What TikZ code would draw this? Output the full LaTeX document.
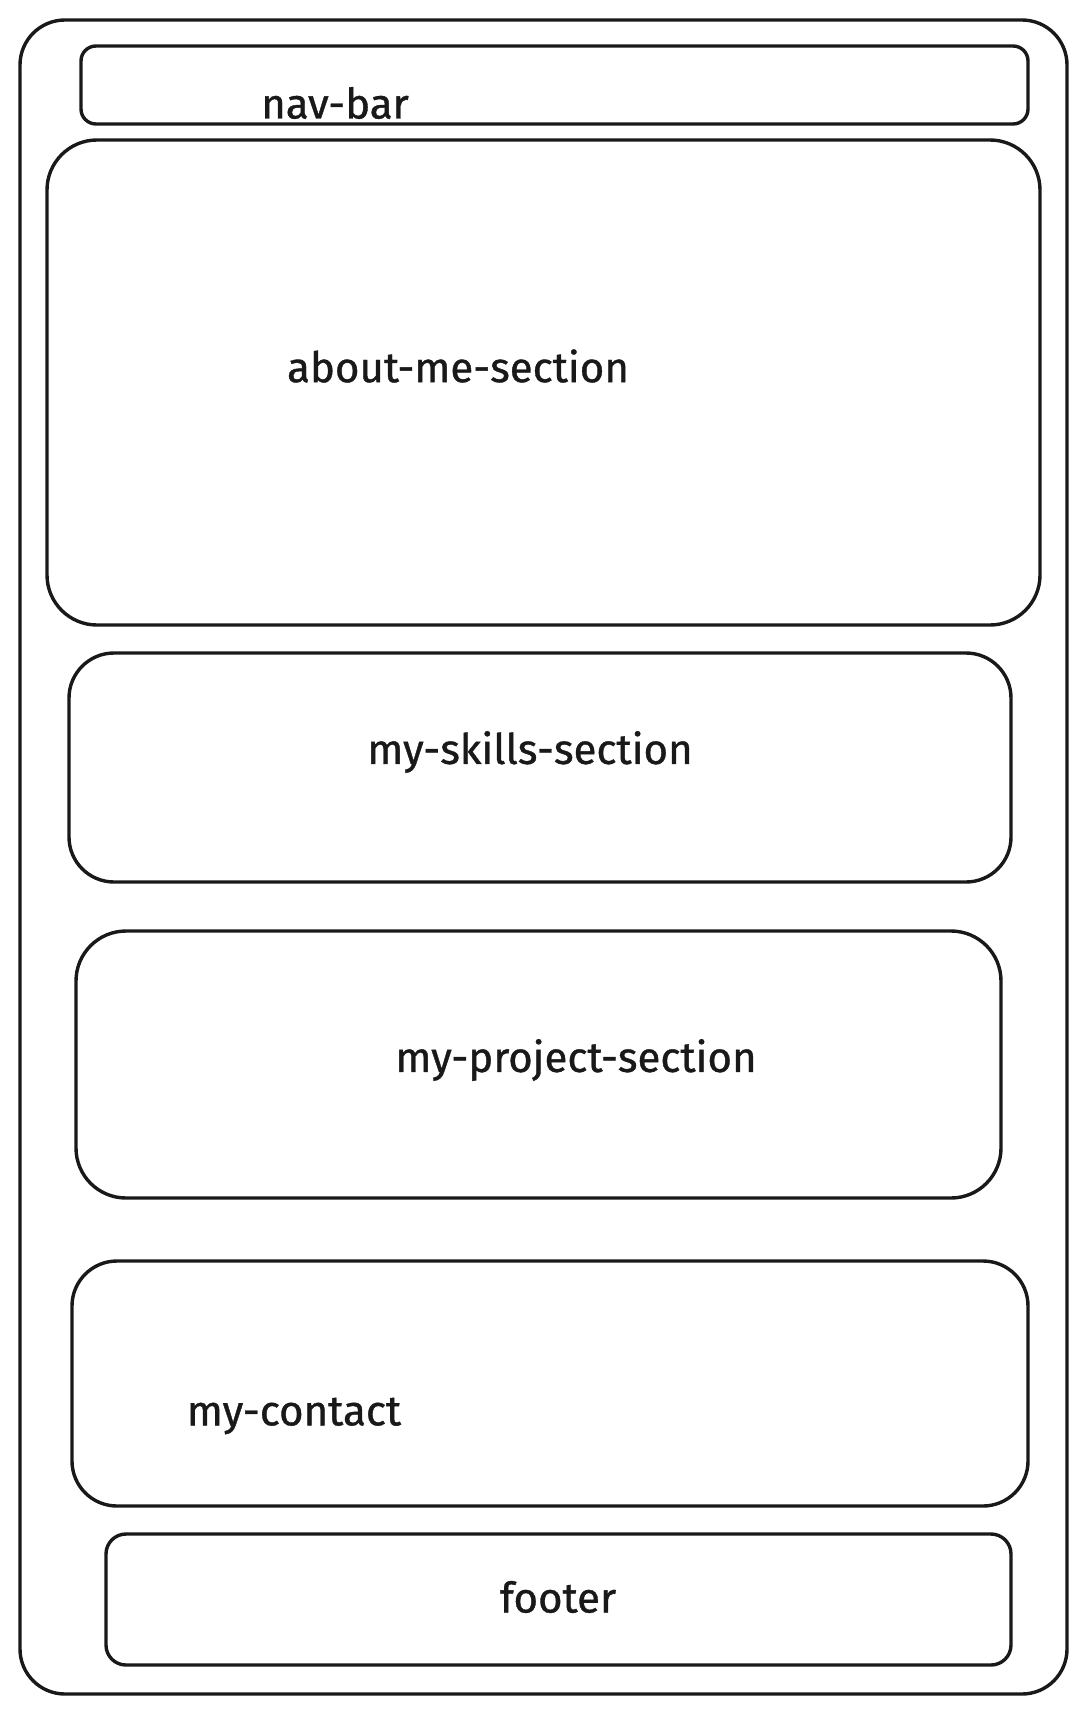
\documentclass[tikz,border=0pt]{standalone}
\usepackage{fontspec}
\setmainfont{Fira Sans}[FakeBold=0.9]
\begin{document}
\begin{tikzpicture}[x=1pt,y=-1pt,
  box/.style={draw=black!90, line width=3.4pt, fill=none, inner sep=0pt},
  lbl/.style={font=\fontsize{42}{48}\selectfont, text=black!90, inner sep=0pt}]
\useasboundingbox[fill=white] (0,0) rectangle (1086,1712);
\node[box, rounded corners=45pt, minimum width=1047pt, minimum height=1674pt] (outer) at (543.5,857) {};
\node[box, rounded corners=15pt, minimum width=947pt, minimum height=78pt] (nav) at (554.5,85) {};
\node[box, rounded corners=50pt, minimum width=993pt, minimum height=485pt] (about) at (543.5,382.5) {};
\node[box, rounded corners=45pt, minimum width=942pt, minimum height=229pt] (skills) at (540,767.5) {};
\node[box, rounded corners=50pt, minimum width=925pt, minimum height=267pt] (project) at (538.5,1064.5) {};
\node[box, rounded corners=45pt, minimum width=956pt, minimum height=245pt] (contact) at (550,1383.5) {};
\node[box, rounded corners=20pt, minimum width=905pt, minimum height=131pt] (footer) at (558.5,1599.5) {};
\node[lbl] (tnav) at (335,103) {nav-bar};
\node[lbl] (tabout) at (458,366) {about-me-section};
\node[lbl] (tskills) at (530,752) {my-skills-section};
\node[lbl] (tproject) at (576,1060) {my-project-section};
\node[lbl] (tcontact) at (294,1416) {my-contact};
\node[lbl] (tfooter) at (558,1597) {footer};
\end{tikzpicture}
\end{document}
